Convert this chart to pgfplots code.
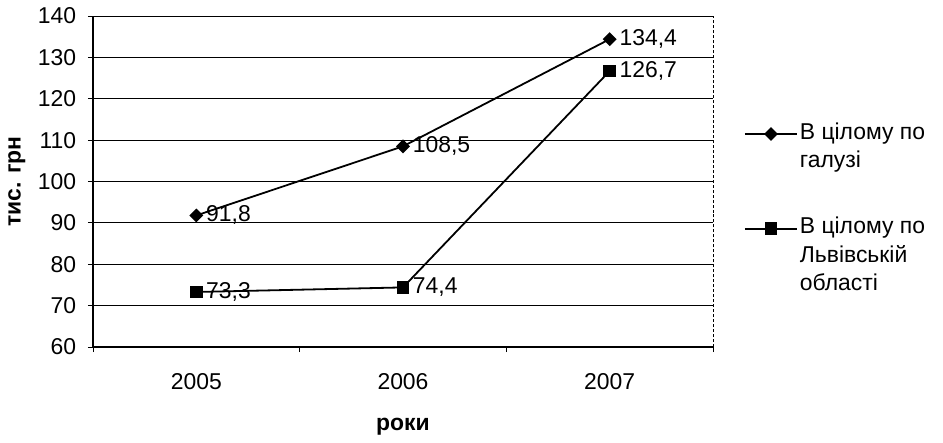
\documentclass[border=0pt]{standalone}
\usepackage{fontspec}
\setmainfont{Liberation Sans}
\usepackage{pgfplots}
\pgfplotsset{compat=1.18}
\begin{document}
\fontsize{23}{28}\selectfont
\begin{tikzpicture}
\begin{axis}[
  scale only axis,
  width=620bp, height=331bp,
  xmin=-0.5, xmax=2.5,
  ymin=60, ymax=140,
  ytick distance=10,
  xtick={-0.5,0.5,1.5,2.5},
  x tick label as interval,
  xticklabels={2005,2006,2007},
  axis x line*=bottom,
  axis y line*=left,
  axis line style={line width=1.3bp},
  tick align=outside,
  major tick length=5bp,
  tick style={black, line width=0.9bp},
  ymajorgrids,
  grid style={black, line width=0.8bp},
  clip=false,
  font=\fontsize{23}{28}\selectfont,
  /pgf/number format/assume math mode=true,
  yticklabel style={xshift=-4bp},
  xticklabel style={yshift=-14bp},
  ylabel={\textbf{тис. грн}},
  ylabel style={at={(axis description cs:-0.123,0.5)}, anchor=center},
  xlabel={\textbf{роки}},
  xlabel style={at={(axis description cs:0.5,-0.24)}, anchor=center},
  legend style={draw=none, fill=none, at={(rel axis cs:1.045,0.69)}, anchor=north west,
    font=\fontsize{23}{28.5}\selectfont, row sep=42bp,
    nodes={align=left, inner sep=2bp}},
  legend cell align=left,
  legend image code/.code={\draw[mark repeat=2,mark phase=2] plot coordinates {(0bp,0bp) (26bp,0bp) (52bp,0bp)};},
  nodes near coords={\pgfmathprintnumber[use comma,fixed,fixed zerofill,precision=1]{\pgfplotspointmeta}},
  every node near coord/.append style={anchor=west, xshift=8bp, font=\fontsize{23}{28}\selectfont, inner sep=1bp},
]
\addplot[black, line width=1.8bp, mark=square*, mark options={rotate=45}, mark size=4bp, legend image post style={yshift=13bp}] coordinates {(0,91.8) (1,108.5) (2,134.4)};
\addlegendentry{В цілому по\\галузі}
\addplot[black, line width=1.8bp, mark=square*, mark options={rotate=0}, mark size=5.5bp, legend image post style={yshift=27bp}] coordinates {(0,73.3) (1,74.4) (2,126.7)};
\addlegendentry{В цілому по\\Львівській\\області}
\draw[densely dashed, line width=0.8bp] (rel axis cs:1,0) -- (rel axis cs:1,1);
\path (rel axis cs:0,0) ++(-93bp,-91bp) rectangle ++(943bp,438bp);
\end{axis}
\end{tikzpicture}
\end{document}
